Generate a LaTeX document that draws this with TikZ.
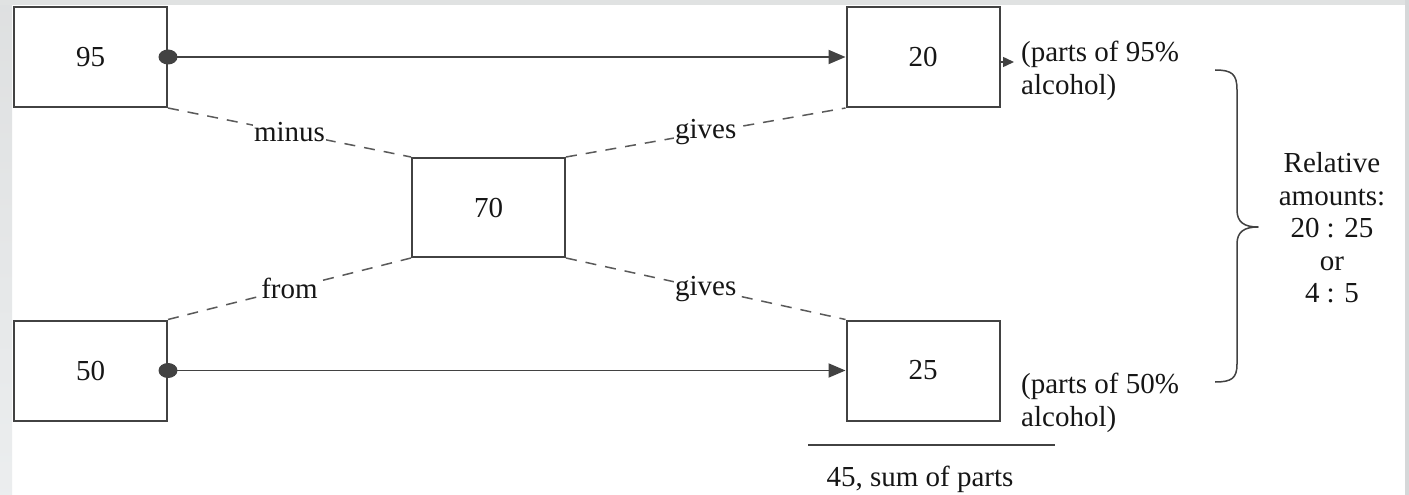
\documentclass[tikz,border=0pt]{standalone}
\usepackage{fontspec}
\setmainfont{Liberation Serif}
\usetikzlibrary{arrows.meta,shapes.geometric}
\definecolor{linec}{HTML}{424242}
\definecolor{dashc}{HTML}{5A5A5A}
\definecolor{txtc}{HTML}{161616}
\definecolor{framec}{HTML}{D6D8D9}
\tikzset{
  numbox/.style={draw=linec, line width=2pt, fill=white, minimum width=153pt, minimum height=100pt, inner sep=0pt, font=\fontsize{29}{32.5}\selectfont, text=txtc},
  conn/.style={draw=linec, line width=1.9pt, -{Triangle[length=17pt,width=14pt]}},
  dashline/.style={draw=dashc, line width=1.5pt, dash pattern=on 11pt off 9pt},
  lbl/.style={fill=white, inner sep=1.5pt, font=\fontsize{29}{32.5}\selectfont, text=txtc},
  plain/.style={inner sep=0pt, font=\fontsize{29}{32.5}\selectfont, text=txtc},
  dotmark/.style={fill=linec, draw=none, ellipse, minimum width=19pt, minimum height=15pt, inner sep=0pt}
}
\begin{document}
\begin{tikzpicture}[x=1pt,y=-1pt]
\useasboundingbox (0,0) rectangle (1409,495);
% frame
\fill[white] (0,0) rectangle (1409,495);
\shade[top color=framec!80, bottom color=framec!110!black] (0,0) rectangle (12,495);
\fill[framec!75] (0,0) rectangle (1409,5);
\fill[framec] (1405,0) rectangle (1409,495);
% boxes
\node[numbox] (b95) at (90.5,57) {95};
\node[numbox] (b20) at (923,57) {20};
\node[numbox, minimum height=99pt] (b70) at (488.5,207.5) {70};
\node[numbox] (b50) at (90.5,370.5) {50};
\node[numbox] (b25) at (923,370.5) {25};
% dashed connectors
\draw[dashline] (b95.south east) -- node[lbl] {minus} (b70.north west);
\draw[dashline] (b70.north east) -- node[lbl] {gives} (b20.south west);
\draw[dashline] (b50.north east) -- node[lbl] {from} (b70.south west);
\draw[dashline] (b70.south east) -- node[lbl] {gives} (b25.north west);
% arrows
\draw[conn] (b95.east) -- (b20.west);
\draw[conn] (b50.east) -- (b25.west);
\node[dotmark] (d1) at (b95.east) {};
\node[dotmark] (d2) at (b50.east) {};
% side texts
\node[plain, anchor=north west, align=left] (t1) at (1021,41) {(parts of 95\%\\alcohol)};
\node[plain, anchor=north west, align=left] (t2) at (1021,373) {(parts of 50\%\\alcohol)};
\coordinate (a1) at (1014,62);
\draw[draw=linec, line width=1.5pt, -{Triangle[length=11pt,width=10pt]}] (b20.east |- a1) -- (a1);
% brace
\coordinate (bt) at (1215,70);
\coordinate (bb) at (1215,382);
\coordinate (btip) at (1258,227);
\draw[draw=linec, line width=1.5pt, line join=round]
  (bt) .. controls (1232,70) and (1237,74) .. (1237,90)
  -- (1237,210) .. controls (1237,222) and (1244,227) .. (btip)
  .. controls (1244,227) and (1237,232) .. (1237,244)
  -- (1237,364) .. controls (1237,378) and (1232,382) .. (bb);
\node[plain, align=center] (rel) at (1332,228) {Relative\\amounts:\\20 : 25\\or\\4 : 5};
% sum line
\coordinate (s1) at (808,445);
\coordinate (s2) at (1055,445);
\draw[draw=linec, line width=1.8pt] (s1) -- (s2);
\node[plain, anchor=base] (sum) at (920,486) {45, sum of parts};
\end{tikzpicture}
\end{document}
